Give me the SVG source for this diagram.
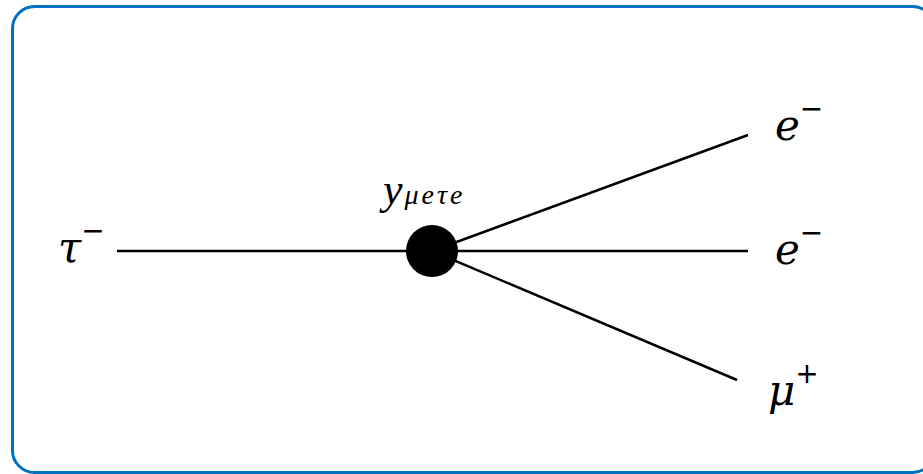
<svg xmlns="http://www.w3.org/2000/svg" width="923" height="474" viewBox="0 0 923 474">
<style>
.frame{fill:#fff;stroke:#0070C0;stroke-width:3}
.ln{stroke:#000;stroke-width:2.5;fill:none}
.lab{font-family:"DejaVu Serif","Liberation Serif",serif;font-style:italic;font-size:42px;fill:#000}
.sup{font-family:"DejaVu Sans","Liberation Sans",sans-serif;font-size:28px;fill:#000}
.cpl{font-family:"Liberation Serif","DejaVu Serif",serif;font-style:italic;fill:#000}
</style>
<rect class="frame" x="12.5" y="6.5" width="922" height="466" rx="22"/>
<g id="connectors">
<line class="ln" x1="117" y1="251" x2="748" y2="251"/>
<line class="ln" x1="432" y1="251" x2="748" y2="135"/>
<line class="ln" x1="432" y1="251" x2="737" y2="380"/>
</g>
<g id="vertex">
<circle cx="432" cy="251" r="26" fill="#000"/>
<text class="cpl" x="383" y="204" font-size="44">y<tspan font-size="28" letter-spacing="3" dx="2">μeτe</tspan></text>
</g>
<g id="tau"><text class="lab" x="58" y="262">τ<tspan class="sup" dy="-22" font-style="normal">−</tspan></text></g>
<g id="e1"><text class="lab" x="775" y="140">e<tspan class="sup" dy="-22" font-style="normal">−</tspan></text></g>
<g id="e2"><text class="lab" x="775" y="264">e<tspan class="sup" dy="-22" font-style="normal">−</tspan></text></g>
<g id="mu"><text class="lab" x="768" y="405">μ<tspan class="sup" dy="-22" font-style="normal">+</tspan></text></g>
</svg>
